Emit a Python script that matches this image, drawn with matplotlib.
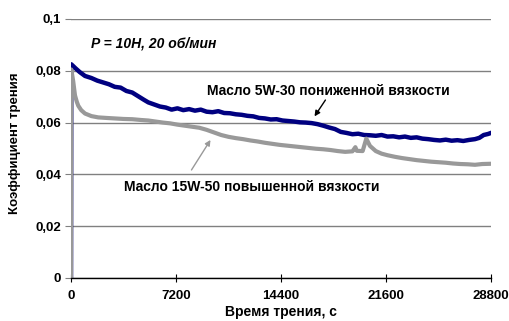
import matplotlib
matplotlib.use("Agg")
import matplotlib.pyplot as plt

plt.rcParams['font.family'] = ['Liberation Sans', 'DejaVu Sans']
plt.rcParams['font.weight'] = 'bold'

# время трения, с  /  коэффициент трения
t_5w30 = [0, 20, 300, 600, 960, 1400, 1800, 2200, 2600, 3000, 3400, 3800, 4200, 4600,
          5000, 5300, 5700, 6100, 6500, 6900, 7300, 7700, 8100, 8500, 8900, 9300, 9700,
          10100, 10500, 10900, 11300, 11700, 12100, 12500, 12900, 13300, 13700, 14100,
          14500, 14900, 15300, 15700, 16100, 16500, 16900, 17300, 17700, 18100, 18500,
          18900, 19300, 19700, 20100, 20500, 20900, 21300, 21700, 22100, 22500, 22900,
          23300, 23700, 24100, 24500, 24900, 25300, 25700, 26100, 26500, 26900, 27300,
          27700, 28000, 28300, 28600, 28800]
f_5w30 = [0.0, 0.0825, 0.0810, 0.0795, 0.0780, 0.0772, 0.0762, 0.0755, 0.0748, 0.0738,
          0.0735, 0.0722, 0.0716, 0.0702, 0.0688, 0.0678, 0.0670, 0.0662, 0.0658, 0.0650,
          0.0655, 0.0648, 0.0652, 0.0646, 0.0650, 0.0642, 0.0640, 0.0644, 0.0637, 0.0636,
          0.0632, 0.0630, 0.0626, 0.0624, 0.0618, 0.0616, 0.0612, 0.0613, 0.0608, 0.0606,
          0.0604, 0.0601, 0.0600, 0.0598, 0.0594, 0.0588, 0.0581, 0.0575, 0.0564, 0.0560,
          0.0555, 0.0557, 0.0552, 0.0551, 0.0549, 0.0552, 0.0546, 0.0547, 0.0543, 0.0546,
          0.0541, 0.0543, 0.0538, 0.0536, 0.0533, 0.0531, 0.0534, 0.0530, 0.0532, 0.0529,
          0.0533, 0.0536, 0.0541, 0.0552, 0.0556, 0.0560]

t_15w50 = [0, 20, 150, 274, 400, 500, 700, 960, 1400, 1870, 2400, 3000, 3600, 4200,
           4800, 5300, 5800, 6300, 6800, 7300, 7800, 8300, 8800, 9300, 9800, 10300,
           10800, 11300, 11800, 12300, 12800, 13300, 13800, 14300, 14800, 15300, 15800,
           16300, 16800, 17300, 17800, 18300, 18800, 19300, 19500, 19600, 20000, 20250,
           20500, 20900, 21300, 21700, 22200, 22700, 23200, 23700, 24200, 24700, 25200,
           25700, 26200, 26700, 27200, 27700, 28200, 28800]
f_15w50 = [0.0, 0.0805, 0.0760, 0.0705, 0.0680, 0.0665, 0.0648, 0.0635, 0.0625, 0.0620,
           0.0618, 0.0616, 0.0614, 0.0613, 0.0610, 0.0608, 0.0604, 0.0600, 0.0597, 0.0592,
           0.0588, 0.0584, 0.0580, 0.0572, 0.0562, 0.0552, 0.0545, 0.0540, 0.0536, 0.0531,
           0.0527, 0.0522, 0.0518, 0.0514, 0.0511, 0.0508, 0.0505, 0.0502, 0.0499, 0.0497,
           0.0494, 0.0490, 0.0487, 0.0489, 0.0505, 0.0491, 0.0490, 0.0538, 0.0510, 0.0490,
           0.0480, 0.0474, 0.0468, 0.0463, 0.0459, 0.0455, 0.0452, 0.0449, 0.0447, 0.0445,
           0.0442, 0.0440, 0.0439, 0.0437, 0.0440, 0.0441]

x_ticks = [0, 7200, 14400, 21600, 28800]
y_ticks = [0, 0.02, 0.04, 0.06, 0.08, 0.1]
y_labels = ["0", "0,02", "0,04", "0,06", "0,08", "0,1"]

fig = plt.figure(figsize=(5.1, 3.21), dpi=100)
ax = fig.add_axes([0.1392, 0.134, 0.8235, 0.8069])

ax.plot(t_5w30, f_5w30, color="#000080", lw=3.2)
ax.plot(t_15w50, f_15w50, color="#999999", lw=3.0)

ax.set_xlim(0, 28800)
ax.set_ylim(0, 0.1)
ax.set_xticks(x_ticks)
ax.set_xticklabels([str(v) for v in x_ticks], fontsize=9.5, fontweight="bold")
ax.set_yticks(y_ticks)
ax.set_yticklabels(y_labels, fontsize=9.5, fontweight="bold")

ax.grid(axis="y", color="#808080", lw=1)
ax.set_axisbelow(True)
for s in ["top", "right", "left"]:
    ax.spines[s].set_visible(False)
ax.spines["bottom"].set_color("black")
ax.spines["bottom"].set_linewidth(1)
ax.tick_params(axis="x", direction="inout", length=6, color="black", pad=6)
ax.tick_params(axis="y", direction="out", length=4, color="#808080", pad=3)

ax.set_xlabel("Время трения, с", fontsize=10, fontweight="bold", labelpad=2)
ax.set_ylabel("Коэффициент трения", fontsize=9.5, fontweight="bold")
ax.yaxis.set_label_coords(-0.118, 0.52)

ax.text(1371, 0.0907, "P = 10H, 20 об/мин", fontsize=10, fontweight="bold",
        fontstyle="italic", va="center", ha="left")

ax.text(9326, 0.0720, "Масло 5W-30 пониженной вязкости", fontsize=10, fontweight="bold",
        va="center", ha="left")
ax.annotate("", xy=(16594, 0.0615), xytext=(17554, 0.0696),
            arrowprops=dict(arrowstyle="-|>", color="black", lw=1, mutation_scale=8))

ax.text(3634, 0.0351, "Масло 15W-50 повышенной вязкости", fontsize=10, fontweight="bold",
        va="center", ha="left")
ax.annotate("", xy=(9669, 0.0542), xytext=(8160, 0.0408),
            arrowprops=dict(arrowstyle="-|>", color="#999999", lw=1, mutation_scale=8))

fig.savefig("out.png", dpi=100)
